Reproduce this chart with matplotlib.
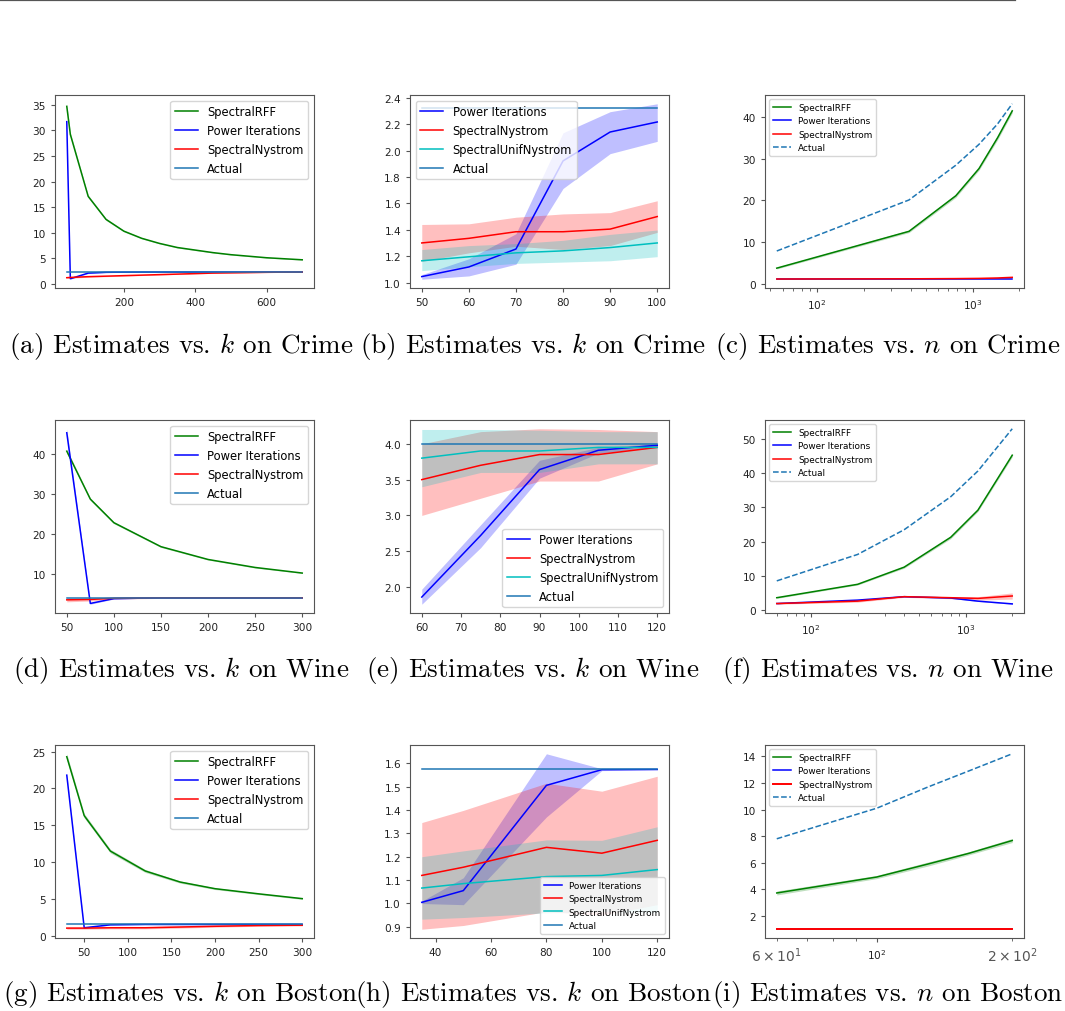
import matplotlib
matplotlib.use("Agg")
import matplotlib.pyplot as plt
from matplotlib.lines import Line2D
import numpy as np

W, H = 1065, 1012

# ---------------- data ----------------
# (a) Crime, estimates vs k
a_k = [40, 50, 100, 150, 200, 250, 300, 350, 400, 450, 500, 550, 600, 650, 700]
a_rff = [34.7, 29.2, 17.1, 12.6, 10.3, 8.9, 7.9, 7.1, 6.6, 6.1, 5.7, 5.4, 5.1, 4.9, 4.7]
a_rff_sd = [0.5, 0.4, 0.25, 0.2, 0.15, 0.12, 0.1, 0.1, 0.1, 0.08, 0.08, 0.08, 0.07, 0.07, 0.07]
a_pow = [31.7, 1.0, 2.1, 2.25, 2.28, 2.3, 2.3, 2.3, 2.3, 2.3, 2.3, 2.3, 2.3, 2.3, 2.3]
a_pow_sd = [0.3, 0.1, 0.1, 0.05, 0.03, 0.02, 0.02, 0.02, 0.02, 0.02, 0.02, 0.02, 0.02, 0.02, 0.02]
a_nys = [1.2, 1.25, 1.4, 1.5, 1.6, 1.7, 1.8, 1.9, 2.0, 2.1, 2.15, 2.2, 2.25, 2.28, 2.3]
a_nys_sd = [0.15, 0.15, 0.12, 0.1, 0.1, 0.08, 0.08, 0.06, 0.06, 0.05, 0.05, 0.05, 0.04, 0.04, 0.04]
a_actual = [2.3] * len(a_k)

# (b) Crime, estimates vs k (zoom)
b_k = [50, 60, 70, 80, 90, 100]
b_pow = [1.045, 1.118, 1.254, 1.922, 2.141, 2.217]
b_pow_lo = [1.025, 1.05, 1.139, 1.713, 1.977, 2.07]
b_pow_hi = [1.06, 1.18, 1.37, 2.135, 2.295, 2.355]
b_nys = [1.30, 1.335, 1.385, 1.385, 1.405, 1.50]
b_nys_lo = [1.16, 1.225, 1.275, 1.25, 1.28, 1.38]
b_nys_hi = [1.44, 1.445, 1.495, 1.52, 1.53, 1.62]
b_unif = [1.165, 1.195, 1.225, 1.24, 1.265, 1.30]
b_unif_lo = [1.09, 1.12, 1.145, 1.155, 1.165, 1.196]
b_unif_hi = [1.25, 1.28, 1.295, 1.32, 1.365, 1.398]
b_actual = [2.32] * len(b_k)

# (c) Crime, estimates vs n
c_n = [55, 390, 780, 1100, 1450, 1800]
c_rff = [3.8, 12.6, 21.1, 27.6, 35.0, 41.4]
c_rff_sd = [0.2, 0.3, 0.4, 0.4, 0.5, 0.5]
c_pow = [1.2, 1.2, 1.2, 1.2, 1.2, 1.2]
c_pow_sd = [0.05, 0.05, 0.05, 0.05, 0.05, 0.05]
c_nys = [1.2, 1.25, 1.3, 1.35, 1.45, 1.6]
c_nys_sd = [0.05, 0.05, 0.05, 0.08, 0.1, 0.15]
c_actual = [7.9, 20.1, 28.4, 33.4, 38.3, 43.1]

# (d) Wine, estimates vs k
d_k = [50, 75, 100, 150, 200, 250, 300]
d_rff = [40.7, 28.7, 22.8, 16.8, 13.6, 11.6, 10.2]
d_rff_sd = [0.5, 0.3, 0.25, 0.2, 0.15, 0.15, 0.1]
d_pow = [45.3, 2.6, 3.8, 4.0, 4.0, 4.0, 4.0]
d_pow_sd = [1.0, 0.2, 0.1, 0.05, 0.05, 0.05, 0.05]
d_nys = [3.5, 3.6, 3.9, 4.0, 4.0, 4.0, 4.0]
d_nys_sd = [0.5, 0.4, 0.2, 0.15, 0.1, 0.1, 0.1]
d_actual = [4.05] * len(d_k)

# (e) Wine, estimates vs k (zoom)
e_k = [60, 75, 90, 105, 120]
e_pow = [1.86, 2.72, 3.64, 3.91, 3.98]
e_pow_lo = [1.76, 2.55, 3.52, 3.87, 3.96]
e_pow_hi = [1.97, 2.87, 3.77, 3.95, 4.0]
e_nys = [3.5, 3.7, 3.85, 3.85, 3.95]
e_nys_lo = [3.0, 3.24, 3.48, 3.48, 3.72]
e_nys_hi = [4.0, 4.17, 4.21, 4.2, 4.17]
e_unif = [3.8, 3.9, 3.9, 3.95, 3.95]
e_unif_lo = [3.4, 3.6, 3.6, 3.72, 3.72]
e_unif_hi = [4.2, 4.2, 4.19, 4.17, 4.17]
e_actual = [4.0] * len(e_k)

# (f) Wine, estimates vs n
f_n = [60, 200, 400, 800, 1200, 2000]
f_rff = [3.7, 7.6, 12.6, 21.3, 29.2, 45.2]
f_rff_sd = [0.2, 0.2, 0.3, 0.4, 0.4, 0.5]
f_pow = [2.0, 3.0, 4.0, 3.6, 2.7, 1.9]
f_pow_sd = [0.1, 0.1, 0.1, 0.1, 0.1, 0.1]
f_nys = [2.0, 2.7, 4.0, 3.7, 3.5, 4.2]
f_nys_sd = [0.2, 0.3, 0.2, 0.3, 0.5, 0.9]
f_actual = [8.6, 16.3, 23.5, 33.1, 40.6, 52.9]

# (g) Boston, estimates vs k
g_k = [30, 50, 80, 120, 160, 200, 250, 300]
g_rff = [24.3, 16.3, 11.5, 8.8, 7.3, 6.4, 5.7, 5.05]
g_rff_sd = [0.4, 0.3, 0.25, 0.2, 0.15, 0.12, 0.1, 0.1]
g_pow = [21.8, 1.1, 1.5, 1.55, 1.55, 1.55, 1.55, 1.55]
g_pow_sd = [0.2, 0.05, 0.05, 0.03, 0.03, 0.03, 0.03, 0.03]
g_nys = [1.05, 1.05, 1.1, 1.1, 1.2, 1.3, 1.4, 1.45]
g_nys_sd = [0.15, 0.15, 0.15, 0.15, 0.15, 0.12, 0.1, 0.1]
g_actual = [1.57] * len(g_k)

# (h) Boston, estimates vs k (zoom)
h_k = [35, 50, 80, 100, 120]
h_pow = [1.005, 1.055, 1.505, 1.572, 1.573]
h_pow_lo = [1.0, 0.995, 1.37, 1.568, 1.572]
h_pow_hi = [1.01, 1.11, 1.64, 1.576, 1.575]
h_nys = [1.12, 1.155, 1.24, 1.215, 1.27]
h_nys_lo = [0.89, 0.906, 0.965, 0.95, 0.995]
h_nys_hi = [1.346, 1.398, 1.514, 1.48, 1.544]
h_unif = [1.066, 1.085, 1.115, 1.12, 1.145]
h_unif_lo = [0.933, 0.94, 0.96, 0.965, 0.962]
h_unif_hi = [1.2, 1.225, 1.272, 1.27, 1.328]
h_actual = [1.573] * len(h_k)

# (i) Boston, estimates vs n
i_n = [60, 100, 130, 160, 200]
i_rff = [3.72, 4.92, 5.9, 6.7, 7.67]
i_rff_sd = [0.15, 0.12, 0.15, 0.12, 0.15]
i_pow = [1.0, 1.0, 1.0, 1.0, 1.0]
i_pow_sd = [0.01, 0.01, 0.01, 0.01, 0.01]
i_nys = [1.0, 1.0, 1.0, 1.0, 1.0]
i_nys_sd = [0.01, 0.01, 0.01, 0.01, 0.01]
i_actual = [7.8, 10.1, 11.7, 12.9, 14.2]

captions = [
    r"(a) Estimates vs. $k$ on Crime", r"(b) Estimates vs. $k$ on Crime", r"(c) Estimates vs. $n$ on Crime",
    r"(d) Estimates vs. $k$ on Wine", r"(e) Estimates vs. $k$ on Wine", r"(f) Estimates vs. $n$ on Wine",
    r"(g) Estimates vs. $k$ on Boston", r"(h) Estimates vs. $k$ on Boston", r"(i) Estimates vs. $n$ on Boston",
]

a_xticks = [200, 400, 600]; a_yticks = [0, 5, 10, 15, 20, 25, 30, 35]
b_xticks = [50, 60, 70, 80, 90, 100]; b_yticks = [1.0, 1.2, 1.4, 1.6, 1.8, 2.0, 2.2, 2.4]
c_yticks = [0, 10, 20, 30, 40]
d_xticks = [50, 100, 150, 200, 250, 300]; d_yticks = [10, 20, 30, 40]
e_xticks = [60, 70, 80, 90, 100, 110, 120]; e_yticks = [2.0, 2.5, 3.0, 3.5, 4.0]
f_yticks = [0, 10, 20, 30, 40, 50]
g_xticks = [50, 100, 150, 200, 250, 300]; g_yticks = [0, 5, 10, 15, 20, 25]
h_xticks = [40, 60, 80, 100, 120]; h_yticks = [0.9, 1.0, 1.1, 1.2, 1.3, 1.4, 1.5, 1.6]
i_yticks = [2, 4, 6, 8, 10, 12, 14]

# ---------------- drawing ----------------
fig = plt.figure(figsize=(W / 100, H / 100), dpi=100)

col_left = [55, 410, 765]
row_top = [96, 421, 746]
ax_w, ax_h = 259, 193
cap_x = [181, 533, 888]
cap_y = [347, 671, 995]

BIG_LEG = 8.3
SMALL_LEG = 6.4

def make_ax(r, c):
    l = col_left[c]; t = row_top[r]
    ax = fig.add_axes([l / W, 1 - (t + ax_h) / H, ax_w / W, ax_h / H])
    for s in ax.spines.values():
        s.set_color('#555555'); s.set_linewidth(0.8)
    ax.tick_params(labelsize=7.6, colors='#555555', labelcolor='#222222', width=0.8, length=3)
    ax.tick_params(which='minor', colors='#555555', width=0.6, length=2)
    return ax

LW = 1.1
AL = 0.25

def sd_band(ax, x, y, sd, color):
    y = np.asarray(y); sd = np.asarray(sd)
    ax.fill_between(x, y - sd, y + sd, color=color, alpha=AL, linewidth=0)

def band(ax, x, lo, hi, color):
    ax.fill_between(x, lo, hi, color=color, alpha=AL, linewidth=0)

# (a)
ax = make_ax(0, 0)
ax.plot(a_k, a_rff, color='green', lw=LW, label='SpectralRFF'); sd_band(ax, a_k, a_rff, a_rff_sd, 'green')
ax.plot(a_k, a_pow, color='blue', lw=LW, label='Power Iterations'); sd_band(ax, a_k, a_pow, a_pow_sd, 'blue')
ax.plot(a_k, a_nys, color='red', lw=LW, label='SpectralNystrom'); sd_band(ax, a_k, a_nys, a_nys_sd, 'red')
ax.plot(a_k, a_actual, color='C0', lw=LW, label='Actual')
ax.set_xticks(a_xticks); ax.set_yticks(a_yticks)
ax.legend(loc='upper right', fontsize=BIG_LEG)

# (b)
ax = make_ax(0, 1)
ax.plot(b_k, b_pow, color='blue', lw=LW, label='Power Iterations'); band(ax, b_k, b_pow_lo, b_pow_hi, 'blue')
ax.plot(b_k, b_nys, color='red', lw=LW, label='SpectralNystrom'); band(ax, b_k, b_nys_lo, b_nys_hi, 'red')
ax.plot(b_k, b_unif, color='c', lw=LW, label='SpectralUnifNystrom'); band(ax, b_k, b_unif_lo, b_unif_hi, 'c')
ax.plot(b_k, b_actual, color='C0', lw=LW, label='Actual')
ax.set_xticks(b_xticks); ax.set_yticks(b_yticks)
ax.legend(loc='upper left', fontsize=BIG_LEG)

# (c)
ax = make_ax(0, 2)
ax.set_xscale('log')
ax.plot(c_n, c_rff, color='green', lw=LW, label='SpectralRFF'); sd_band(ax, c_n, c_rff, c_rff_sd, 'green')
ax.plot(c_n, c_pow, color='blue', lw=LW, label='Power Iterations'); sd_band(ax, c_n, c_pow, c_pow_sd, 'blue')
ax.plot(c_n, c_nys, color='red', lw=LW, label='SpectralNystrom'); sd_band(ax, c_n, c_nys, c_nys_sd, 'red')
ax.plot(c_n, c_actual, color='C0', lw=LW, ls='--', label='Actual')
ax.set_yticks(c_yticks)
ax.legend(loc='upper left', fontsize=SMALL_LEG)

# (d)
ax = make_ax(1, 0)
ax.plot(d_k, d_rff, color='green', lw=LW, label='SpectralRFF'); sd_band(ax, d_k, d_rff, d_rff_sd, 'green')
ax.plot(d_k, d_pow, color='blue', lw=LW, label='Power Iterations'); sd_band(ax, d_k, d_pow, d_pow_sd, 'blue')
ax.plot(d_k, d_nys, color='red', lw=LW, label='SpectralNystrom'); sd_band(ax, d_k, d_nys, d_nys_sd, 'red')
ax.plot(d_k, d_actual, color='C0', lw=LW, label='Actual')
ax.set_xticks(d_xticks); ax.set_yticks(d_yticks)
ax.legend(loc='upper right', fontsize=BIG_LEG)

# (e)
ax = make_ax(1, 1)
ax.plot(e_k, e_pow, color='blue', lw=LW, label='Power Iterations'); band(ax, e_k, e_pow_lo, e_pow_hi, 'blue')
ax.plot(e_k, e_nys, color='red', lw=LW, label='SpectralNystrom'); band(ax, e_k, e_nys_lo, e_nys_hi, 'red')
ax.plot(e_k, e_unif, color='c', lw=LW, label='SpectralUnifNystrom'); band(ax, e_k, e_unif_lo, e_unif_hi, 'c')
ax.plot(e_k, e_actual, color='C0', lw=LW, label='Actual')
ax.set_xticks(e_xticks); ax.set_yticks(e_yticks)
ax.legend(loc='lower right', fontsize=BIG_LEG)

# (f)
ax = make_ax(1, 2)
ax.set_xscale('log')
ax.plot(f_n, f_rff, color='green', lw=LW, label='SpectralRFF'); sd_band(ax, f_n, f_rff, f_rff_sd, 'green')
ax.plot(f_n, f_pow, color='blue', lw=LW, label='Power Iterations'); sd_band(ax, f_n, f_pow, f_pow_sd, 'blue')
ax.plot(f_n, f_nys, color='red', lw=LW, label='SpectralNystrom'); sd_band(ax, f_n, f_nys, f_nys_sd, 'red')
ax.plot(f_n, f_actual, color='C0', lw=LW, ls='--', label='Actual')
ax.set_yticks(f_yticks)
ax.legend(loc='upper left', fontsize=SMALL_LEG)

# (g)
ax = make_ax(2, 0)
ax.plot(g_k, g_rff, color='green', lw=LW, label='SpectralRFF'); sd_band(ax, g_k, g_rff, g_rff_sd, 'green')
ax.plot(g_k, g_pow, color='blue', lw=LW, label='Power Iterations'); sd_band(ax, g_k, g_pow, g_pow_sd, 'blue')
ax.plot(g_k, g_nys, color='red', lw=LW, label='SpectralNystrom'); sd_band(ax, g_k, g_nys, g_nys_sd, 'red')
ax.plot(g_k, g_actual, color='C0', lw=LW, label='Actual')
ax.set_xticks(g_xticks); ax.set_yticks(g_yticks)
ax.legend(loc='upper right', fontsize=BIG_LEG)

# (h)
ax = make_ax(2, 1)
ax.plot(h_k, h_pow, color='blue', lw=LW, label='Power Iterations'); band(ax, h_k, h_pow_lo, h_pow_hi, 'blue')
ax.plot(h_k, h_nys, color='red', lw=LW, label='SpectralNystrom'); band(ax, h_k, h_nys_lo, h_nys_hi, 'red')
ax.plot(h_k, h_unif, color='c', lw=LW, label='SpectralUnifNystrom'); band(ax, h_k, h_unif_lo, h_unif_hi, 'c')
ax.plot(h_k, h_actual, color='C0', lw=LW, label='Actual')
ax.set_xticks(h_xticks); ax.set_yticks(h_yticks)
ax.legend(loc='lower right', fontsize=SMALL_LEG)

# (i)
ax = make_ax(2, 2)
ax.set_xscale('log')
ax.plot(i_n, i_rff, color='green', lw=LW, label='SpectralRFF'); sd_band(ax, i_n, i_rff, i_rff_sd, 'green')
ax.plot(i_n, i_pow, color='blue', lw=LW, label='Power Iterations'); sd_band(ax, i_n, i_pow, i_pow_sd, 'blue')
ax.plot(i_n, i_nys, color='red', lw=LW + 0.3, label='SpectralNystrom'); sd_band(ax, i_n, i_nys, i_nys_sd, 'red')
ax.plot(i_n, i_actual, color='C0', lw=LW, ls='--', label='Actual')
ax.set_yticks(i_yticks)
ax.legend(loc='upper left', fontsize=SMALL_LEG)

# captions
for idx, cap in enumerate(captions):
    r, c = divmod(idx, 3)
    fig.text(cap_x[c] / W, 1 - cap_y[r] / H, cap, ha='center', va='center',
             fontsize=19.5, family='cmr10', math_fontfamily='cm', color='black')

# top rule
fig.add_artist(Line2D([0, 1015 / W], [1 - 1.2 / H, 1 - 1.2 / H], transform=fig.transFigure,
                      color='#555555', lw=1.6))

fig.savefig('out.png', dpi=100)
